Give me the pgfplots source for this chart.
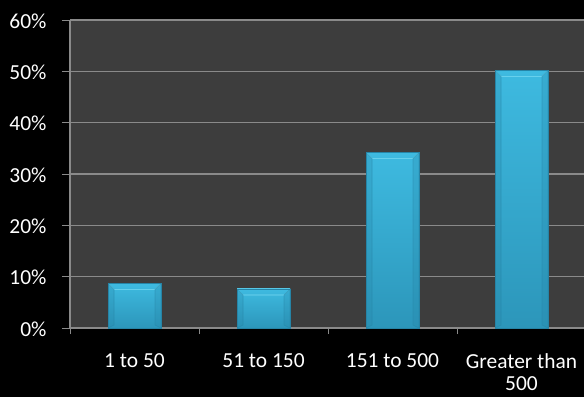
\documentclass[border=0pt]{standalone}
\usepackage{pgfplots}
\pgfplotsset{compat=1.18}
\usepackage{fontspec}
\setmainfont{Carlito}

\definecolor{plotbg}{RGB}{61,61,61}
\definecolor{gridgray}{RGB}{138,138,138}
\definecolor{bartop}{RGB}{62,186,224}
\definecolor{barbottom}{RGB}{44,150,186}
\definecolor{barlight}{RGB}{120,218,242}
\definecolor{barside}{RGB}{38,132,166}

% facets of a beveled column, drawn inside its outline
\newcommand\barfacets{%
  \fill[barlight, path picture={}] (path picture bounding box.north west)
    -- (path picture bounding box.north east)
    -- ([shift={(-6bp,-6bp)}]path picture bounding box.north east)
    -- ([shift={(6bp,-6bp)}]path picture bounding box.north west) -- cycle;
  \fill[barside, opacity=0.5, path picture={}] (path picture bounding box.north west)
    -- ([shift={(6bp,-6bp)}]path picture bounding box.north west)
    -- ([shift={(6bp,3bp)}]path picture bounding box.south west)
    -- (path picture bounding box.south west) -- cycle;
  \fill[barside, opacity=0.5, path picture={}] (path picture bounding box.north east)
    -- ([shift={(-6bp,-6bp)}]path picture bounding box.north east)
    -- ([shift={(-6bp,3bp)}]path picture bounding box.south east)
    -- (path picture bounding box.south east) -- cycle;
}
\tikzset{bevelbar/.style={
  draw=barside, line width=0.6bp,
  top color=bartop, bottom color=barbottom,
  path picture={\barfacets}}}

\begin{document}
\begin{tikzpicture}[x=1bp,y=1bp]
\fill[black] (0,0) rectangle (584,397);
\useasboundingbox (0,0) rectangle (584,397);
\begin{axis}[
  at={(70bp,69bp)}, anchor=south west,
  scale only axis, width=516bp, height=308bp,
  xmin=-0.5, xmax=3.5, ymin=0, ymax=60,
  axis background/.style={fill=plotbg},
  axis x line*=bottom, axis y line*=left,
  axis line style={gridgray, line width=1.2bp},
  ymajorgrids, grid style={gridgray, line width=1.2bp},
  ytick={0,10,...,60},
  yticklabel={\pgfmathprintnumber{\tick}\%},
  /pgf/number format/assume math mode=true,
  tick align=outside,
  tick style={gridgray, line width=1bp},
  major tick length=8bp, minor tick length=6bp,
  xtick={0,1,2,3},
  major x tick style={draw=none},
  minor xtick={-0.5,0.5,1.5,2.5},
  xticklabels={1 to 50, 51 to 150, 151 to 500, {Greater than\\500}},
  ticklabel style={font=\fontsize{21.5}{23}\selectfont, text=white},
  xticklabel style={align=center, anchor=north, inner ysep=0pt, yshift=-17bp},
  yticklabel style={xshift=-12bp, yshift=-1bp},
  ybar, bar width=53bp, bar shift=0pt,
]
\addplot[bevelbar] coordinates {(0,8.7)};
\addplot[bevelbar] coordinates {(1,7.6)};
\addplot[bevelbar] coordinates {(2,34.2)};
\addplot[bevelbar] coordinates {(3,50.2)};
\end{axis}
\end{tikzpicture}
\end{document}
